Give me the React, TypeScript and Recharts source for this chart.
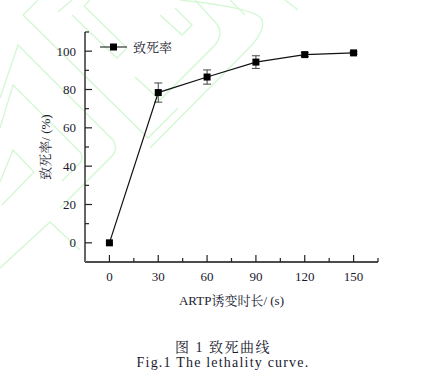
import { LineChart, Line, XAxis, YAxis, ErrorBar, Legend } from 'recharts';

const times = [0, 30, 60, 90, 120, 150];
const lethality = [0, 78.4, 86.5, 94.3, 98.2, 99.1];
const lethalityErr = [0, 5, 3.7, 3.3, 1, 0.6];
const xTicks = [0, 15, 30, 45, 60, 75, 90, 105, 120, 135, 150, 165];
const yTicks = [0, 10, 20, 30, 40, 50, 60, 70, 80, 90, 100, 110];

const data = times.map((t, i) => ({ t, rate: lethality[i], err: lethalityErr[i] }));

const FONT = "'Liberation Serif', 'Noto Serif CJK SC', 'Noto Sans CJK SC', serif";
const TEXT = '#1a1a2e';
const GREEN = '#d3f7d3';

const XTick = (props: any) => {
    const { x, y, payload } = props;
    const major = payload.value % 30 === 0;
    const axisY = y - 10;
    return (
        <g>
            <line x1={x} x2={x} y1={axisY} y2={axisY - (major ? 7 : 4)} stroke="#222" strokeWidth={1.2} />
            {major && (
                <text x={x} y={y + 9} textAnchor="middle" style={{ fontFamily: FONT, fontSize: 13, fill: TEXT }}>
                    {payload.value}
                </text>
            )}
        </g>
    );
};

const YTick = (props: any) => {
    const { x, y, payload } = props;
    const major = payload.value % 20 === 0;
    const axisX = x + 9;
    return (
        <g>
            <line x1={axisX} x2={axisX + (major ? 7 : 4)} y1={y} y2={y} stroke="#222" strokeWidth={1.2} />
            {major && (
                <text x={x} y={y + 4.5} textAnchor="end" style={{ fontFamily: FONT, fontSize: 13, fill: TEXT }}>
                    {payload.value}
                </text>
            )}
        </g>
    );
};

const SquareDot = (props: any) => {
    const { cx, cy, index } = props;
    return <rect key={`dot-${index}`} x={cx - 3.5} y={cy - 3.5} width={7} height={7} fill="#000" />;
};

const LegendContent = () => (
    <div style={{ display: 'flex', alignItems: 'center', fontFamily: FONT, fontSize: 13, color: TEXT }}>
        <svg width={30} height={12}>
            <line x1={0} x2={27} y1={6} y2={6} stroke="#333" strokeWidth={1.2} />
            <rect x={10} y={2.5} width={7} height={7} fill="#000" />
        </svg>
        <span style={{ marginLeft: 3 }}>致死率</span>
    </div>
);

// faint green watermark behind the figure
const Watermark = () => (
    <svg width={433} height={383} style={{ position: 'absolute', left: 0, top: 0 }}>
        <g fill="none" stroke={GREEN} strokeWidth={1.3}>
            <path d="M0,98 L18,45 L113,140 Q118,148 113,155 L60,208" />
            <path d="M0,128 L13,85 L80,152 Q84,158 80,163 L62,181" />
            <path d="M0,182 L13,150 L34,172 L2,205" />
            <path d="M0,268 L50,222 L80,250" />
            <path d="M23,15 L38,0" />
            <path d="M23,15 L148,138 L178,108" />
            <path d="M58,12 L72,0" />
            <path d="M72,15 L117,58 L127,48 L84,6" />
            <path d="M84,6 L90,0" />
            <path d="M160,15 L182,35 L192,25 L175,8" />
            <path d="M180,0 Q258,8 262,20 Q266,32 245,52 L150,148" />
            <path d="M135,77 L160,100 L215,45 Q225,32 215,22 L195,0" />
            <path d="M230,0 L245,15" />
            <path d="M285,0 L298,10" />
        </g>
    </svg>
);

export default function App() {
    return (
        <div style={{ position: 'absolute', left: 0, top: 0, width: 433, height: 383, background: '#fff', overflow: 'hidden' }}>
            <Watermark />
            <div style={{ position: 'absolute', left: 0, top: 0 }}>
                <LineChart width={433} height={320} data={data} margin={{ top: 32, right: 55, bottom: 13, left: 0 }}>
                    <XAxis
                        dataKey="t"
                        type="number"
                        domain={[-15, 165]}
                        ticks={xTicks}
                        interval={0}
                        height={45}
                        tickSize={0}
                        tickMargin={10}
                        tickLine={false}
                        tick={<XTick />}
                        axisLine={{ stroke: '#111', strokeWidth: 1.4 }}
                        label={{
                            value: 'ARTP诱变时长/ (s)',
                            position: 'insideBottom',
                            offset: 2,
                            style: { fontFamily: FONT, fontSize: 13, fill: TEXT },
                        }}
                    />
                    <YAxis
                        type="number"
                        domain={[-10, 110]}
                        ticks={yTicks}
                        interval={0}
                        width={85}
                        tickSize={0}
                        tickMargin={9}
                        tickLine={false}
                        tick={<YTick />}
                        axisLine={{ stroke: '#666', strokeWidth: 2 }}
                        label={{
                            value: '致死率/ (%)',
                            angle: -90,
                            position: 'insideLeft',
                            offset: 45,
                            style: { fontFamily: FONT, fontSize: 13, fill: TEXT, textAnchor: 'middle' },
                        }}
                    />
                    <Legend
                        verticalAlign="middle"
                        align="center"
                        content={<LegendContent />}
                        wrapperStyle={{ position: 'absolute', left: 100, top: 37, width: 'auto' }}
                    />
                    <Line
                        dataKey="rate"
                        stroke="#111"
                        strokeWidth={1.2}
                        dot={<SquareDot />}
                        activeDot={false}
                        isAnimationActive={false}
                    >
                        <ErrorBar dataKey="err" direction="y" width={4} stroke="#444" strokeWidth={1} />
                    </Line>
                </LineChart>
            </div>
            <div style={{ position: 'absolute', left: 0, width: 446, top: 336, textAlign: 'center', fontFamily: FONT, fontSize: 14, color: TEXT, letterSpacing: 1.5 }}>
                图 1 致死曲线
            </div>
            <div style={{ position: 'absolute', left: 0, width: 446, top: 355, textAlign: 'center', fontFamily: FONT, fontSize: 14, color: TEXT, letterSpacing: 1.2 }}>
                Fig.1 The lethality curve.
            </div>
        </div>
    );
}
